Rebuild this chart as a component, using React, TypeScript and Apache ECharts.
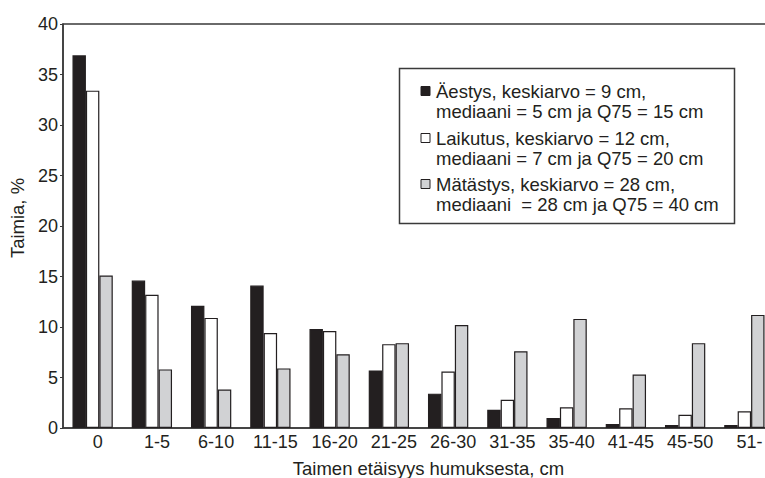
import React, { useEffect, useRef } from "react";
import * as echarts from "echarts";

const categories = ["0", "1-5", "6-10", "11-15", "16-20", "21-25", "26-30", "31-35", "35-40", "41-45", "45-50", "51-"];
const aestys = [36.9, 14.6, 12.1, 14.1, 9.8, 5.7, 3.4, 1.8, 1.0, 0.4, 0.3, 0.3];
const laikutus = [33.4, 13.2, 10.9, 9.4, 9.6, 8.3, 5.6, 2.8, 2.05, 1.95, 1.3, 1.65];
const matastys = [15.1, 5.8, 3.8, 5.9, 7.3, 8.4, 10.2, 7.6, 10.8, 5.3, 8.4, 11.2];
const seriesNames = ["Äestys", "Laikutus", "Mätästys"];
const legendLines = [
  ["Äestys, keskiarvo = 9 cm,", "mediaani = 5 cm ja Q75 = 15 cm"],
  ["Laikutus, keskiarvo = 12 cm,", "mediaani = 7 cm ja Q75 = 20 cm"],
  ["Mätästys, keskiarvo = 28 cm,", "mediaani  = 28 cm ja Q75 = 40 cm"],
];
const yTicks = { min: 0, max: 40, interval: 5 };
const xTitle = "Taimen etäisyys humuksesta, cm";
const yTitle = "Taimia, %";

const FONT = "'Liberation Sans', Arial, Helvetica, sans-serif";
const INK = "#231f20";
const fills = ["#231f20", "#ffffff", "#d1d2d4"];

export default function App() {
  const ref = useRef<HTMLDivElement>(null);
  useEffect(() => {
    if (!ref.current) return;
    const chart = echarts.init(ref.current, null, { renderer: "svg" });
    const data = [aestys, laikutus, matastys];
    const legendTop = [81, 128, 174];
    const legendGraphics: any[] = [
      {
        type: "rect",
        shape: { x: 399.5, y: 68.5, width: 335, height: 155 },
        style: { fill: "#fff", stroke: "#3a3a3a", lineWidth: 1.5 },
        z: 10,
      },
    ];
    legendLines.forEach((lines, i) => {
      legendGraphics.push({
        type: "rect",
        shape: { x: 421, y: legendTop[i] + 5.5, width: 9, height: 9 },
        style: { fill: fills[i], stroke: INK, lineWidth: 1 },
        z: 11,
      });
      legendGraphics.push({
        type: "text",
        x: 436,
        y: legendTop[i],
        style: {
          text: lines.join("\n"),
          fontSize: 18.5,
          fontFamily: FONT,
          lineHeight: 20,
          fill: INK,
          verticalAlign: "top",
          align: "left",
        },
        z: 11,
      });
    });

    chart.setOption({
      animation: false,
      backgroundColor: "#fff",
      grid: {
        left: 63,
        top: 24,
        width: 711,
        height: 404,
        show: true,
        borderColor: "#3a3a3a",
        borderWidth: 1.5,
        containLabel: false,
        outerBoundsMode: "none",
      },
      xAxis: {
        type: "category",
        data: categories,
        name: xTitle,
        nameLocation: "middle",
        nameGap: 31,
        nameTextStyle: { fontFamily: FONT, fontSize: 18.5, color: INK, padding: [0, 0, 0, 20] },
        axisLine: { lineStyle: { color: "#3a3a3a", width: 1.5 } },
        axisTick: { show: false },
        axisLabel: { fontFamily: FONT, fontSize: 18, color: INK, margin: 5, interval: 0, padding: [0, 0, 0, 10] },
      },
      yAxis: {
        type: "value",
        min: yTicks.min,
        max: yTicks.max,
        interval: yTicks.interval,
        name: yTitle,
        nameLocation: "middle",
        nameGap: 31,
        nameTextStyle: { fontFamily: FONT, fontSize: 18.5, color: INK, padding: [0, 0, 0, 16] },
        axisLine: { show: true, lineStyle: { color: "#3a3a3a", width: 1.5 } },
        axisTick: { show: true, length: 3, inside: false, lineStyle: { color: "#3a3a3a" } },
        axisLabel: { fontFamily: FONT, fontSize: 18, color: INK, margin: 5 },
        splitLine: { show: false },
      },
      series: seriesNames.map((name, i) => ({
        name,
        type: "bar",
        data: data[i],
        barGap: "0%",
        barCategoryGap: "32%",
        itemStyle: { color: fills[i], borderColor: INK, borderWidth: 1.2 },
      })),
      graphic: legendGraphics,
    });
    return () => chart.dispose();
  }, []);
  return (
    <div
      ref={ref}
      style={{ position: "fixed", left: 0, top: 0, width: 765, height: 478, background: "#fff" }}
    />
  );
}
